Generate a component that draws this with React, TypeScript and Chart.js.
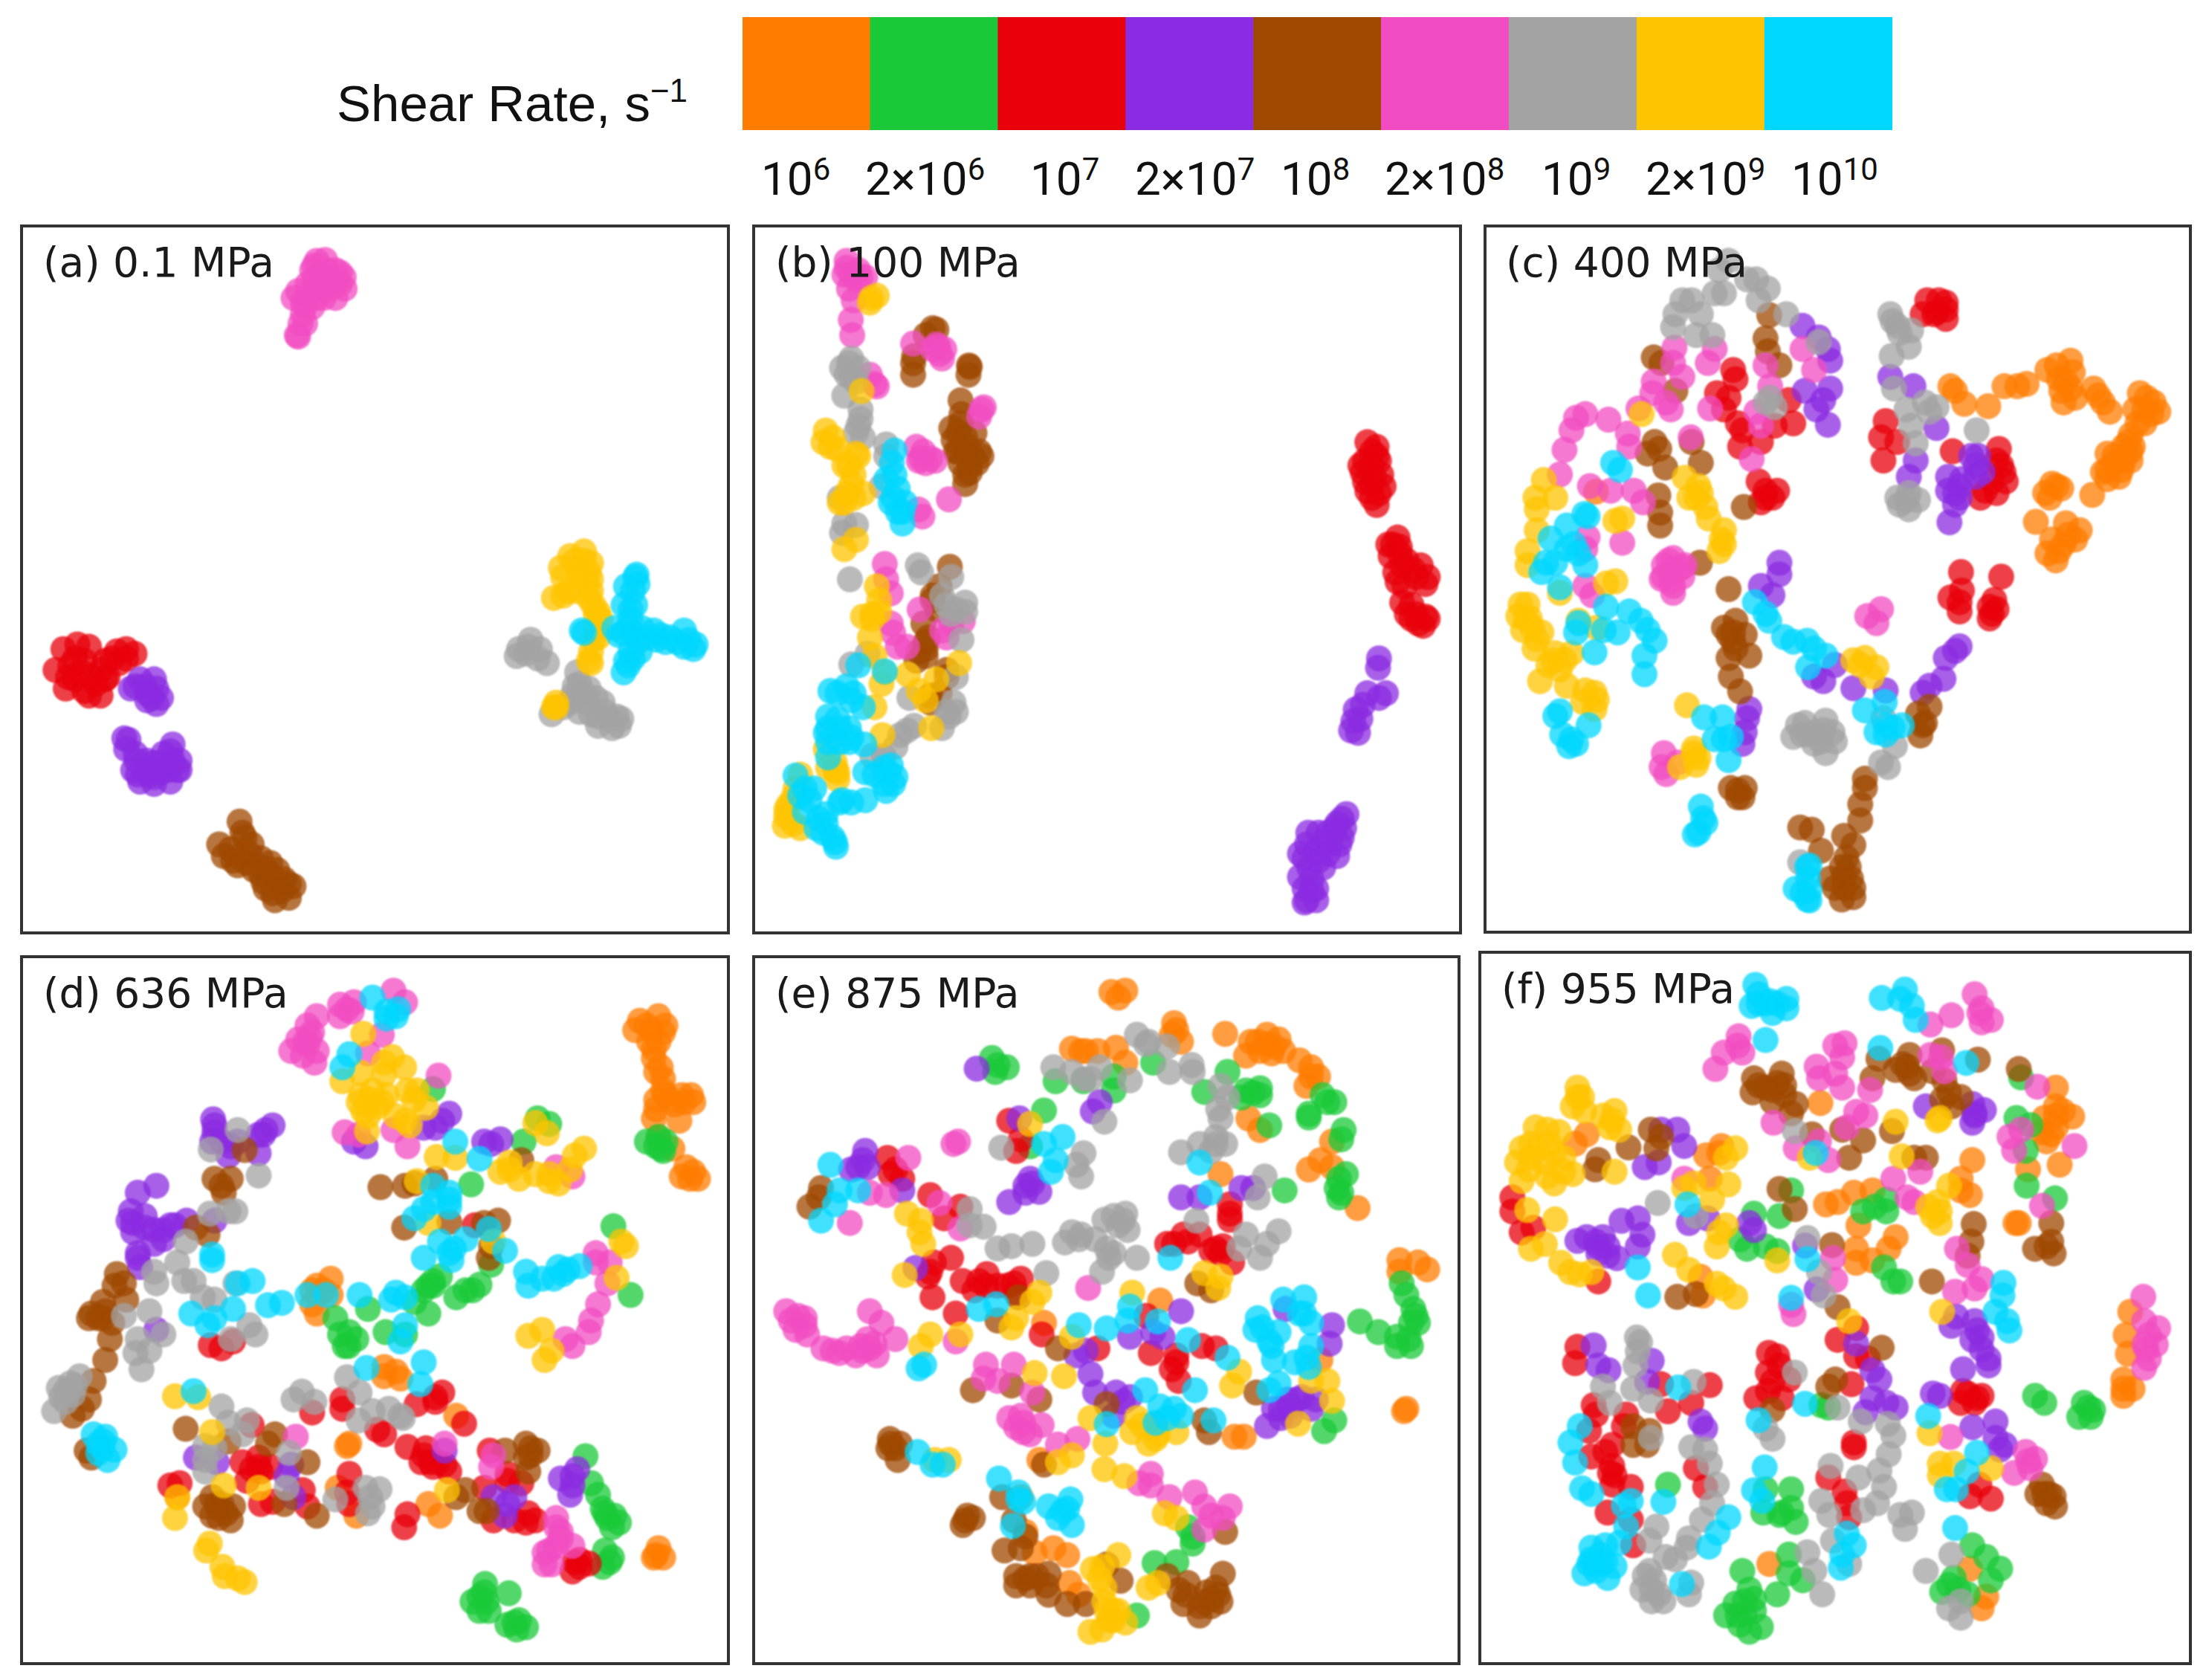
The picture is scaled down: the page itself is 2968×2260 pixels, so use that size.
import React, { useEffect, useRef } from "react";
import { Chart, registerables } from "chart.js";

Chart.register(...registerables);

type P = [number, number];

const shearRates = ["1e6", "2e6", "1e7", "2e7", "1e8", "2e8", "1e9", "2e9", "1e10"];
const shearColors = ["#ff7c00", "#1ac938", "#e8000b", "#8b2be2", "#9f4800", "#f14cc1", "#a3a3a3", "#ffc400", "#00d7ff"];
const tickBase = ["10", "2×10", "10", "2×10", "10", "2×10", "10", "2×10", "10"];
const tickExp = ["6", "6", "7", "7", "8", "8", "9", "9", "10"];
const barShare = [1, 1, 1, 1, 1, 1, 1, 1, 1];

// (a) 0.1 MPa
const aRed: P[] = [[135,915],[105,925],[88,970],[110,1010],[160,1025],[185,1025],[195,990],[150,950],[120,960],[165,985],[130,990],[210,945],[240,925],[258,935],[225,955],[200,985],[240,945],[115,985],[145,975],[175,1000],[195,950],[220,930],[160,920],[130,945],[150,1015],[185,970]];
const aPurple: P[] = [[250,1010],[270,990],[300,990],[305,1010],[285,1020],[305,1043],[285,1035],[236,1117],[240,1140],[262,1165],[270,1210],[300,1215],[335,1210],[350,1185],[355,1165],[340,1130],[335,1145],[300,1170],[315,1190],[280,1190],[260,1005],[295,1030],[315,1030],[280,1005],[245,1120],[260,1150],[285,1165],[310,1170],[330,1185],[290,1195],[340,1165],[320,1150],[255,1185],[300,1200],[355,1185],[265,1195]];
const aBrown: P[] = [[484,1296],[490,1320],[510,1345],[440,1345],[450,1370],[480,1390],[530,1375],[550,1385],[530,1410],[560,1420],[540,1440],[600,1435],[575,1445],[560,1465],[590,1460],[465,1355],[480,1370],[505,1365],[500,1385],[515,1400],[545,1405],[565,1400],[580,1420],[535,1425],[555,1450],[590,1430],[495,1330],[470,1380],[535,1395]];
const aPink: P[] = [[610,253],[607,250],[625,225],[620,205],[600,170],[610,155],[630,165],[650,170],[640,190],[665,150],[690,170],[710,150],[708,125],[700,115],[680,130],[650,130],[640,110],[650,90],[668,88],[645,100],[660,120],[630,140],[690,130],[670,110],[660,140],[650,150],[625,185],[615,225],[620,180],[680,150],[700,140],[665,170],[645,130],[690,110]];
const aGray: P[] = [[1110,905],[1085,925],[1080,940],[1130,925],[1145,955],[1210,975],[1205,1005],[1235,1010],[1155,1065],[1195,1040],[1230,1040],[1265,1040],[1295,1070],[1255,1090],[1285,1095],[1215,1060],[1300,1090],[1105,920],[1100,935],[1125,945],[1215,1000],[1225,1020],[1250,1030],[1180,1050],[1240,1065],[1270,1060],[1280,1075],[1255,1070],[1200,1025],[1305,1075]];
const aYellow: P[] = [[1225,715],[1240,740],[1195,725],[1175,750],[1210,750],[1160,815],[1190,800],[1230,780],[1240,800],[1245,830],[1260,860],[1255,900],[1240,930],[1240,955],[1250,880],[1165,1040],[1160,1050],[1225,735],[1205,735],[1180,770],[1220,770],[1235,760],[1240,775],[1250,850],[1245,905],[1180,810],[1210,800],[1165,1050],[1235,815],[1235,950],[1255,845]];
const aCyan: P[] = [[1338,765],[1340,785],[1315,790],[1310,830],[1335,830],[1325,860],[1220,885],[1225,890],[1290,880],[1330,890],[1375,885],[1410,900],[1440,885],[1460,925],[1450,905],[1325,930],[1345,930],[1310,975],[1320,960],[1400,910],[1330,800],[1325,840],[1320,880],[1310,890],[1340,910],[1360,900],[1390,895],[1425,910],[1440,920],[1465,915],[1330,945],[1315,950],[1350,880],[1300,895],[1380,905],[1335,770]];

// (b) 100 MPa
const bRed: P[] = [[1335,480],[1355,490],[1330,520],[1360,520],[1325,545],[1365,550],[1335,585],[1370,575],[1355,615],[1345,600],[1400,685],[1390,700],[1385,725],[1420,735],[1450,745],[1465,770],[1460,785],[1395,760],[1415,790],[1410,825],[1440,850],[1460,855],[1455,875],[1430,860],[1345,500],[1345,530],[1350,555],[1345,570],[1360,590],[1320,530],[1330,565],[1405,705],[1405,720],[1410,745],[1435,755],[1440,770],[1400,780],[1430,830],[1445,870],[1380,700],[1420,850],[1465,860],[1355,510]];
const bPurple: P[] = [[1360,945],[1358,965],[1375,1020],[1335,1020],[1310,1055],[1305,1080],[1315,1105],[1290,1280],[1285,1310],[1265,1310],[1208,1320],[1205,1345],[1240,1340],[1275,1345],[1200,1375],[1230,1380],[1270,1370],[1190,1415],[1215,1420],[1200,1470],[1225,1440],[1225,1465],[1325,1045],[1320,1075],[1300,1100],[1360,1030],[1250,1320],[1280,1290],[1225,1360],[1250,1365],[1210,1395],[1240,1395],[1200,1440],[1215,1445],[1255,1345],[1190,1365],[1230,1320],[1280,1330],[1270,1300],[1205,1465]];
const bBrown: P[] = [[400,235],[408,238],[385,250],[360,295],[358,310],[358,335],[478,315],[480,318],[477,335],[460,390],[462,420],[440,450],[445,475],[470,470],[490,460],[505,510],[470,500],[460,525],[495,525],[470,570],[480,545],[437,748],[415,790],[400,810],[410,840],[380,870],[385,910],[385,940],[365,950],[430,985],[415,1020],[395,1040],[475,490],[455,500],[485,510],[480,530],[500,500],[470,550],[450,500],[400,820],[390,900],[385,925],[370,930],[395,1025],[430,970],[455,460],[460,440]];
const bPink: P[] = [[215,90],[240,110],[210,120],[255,125],[220,150],[230,175],[224,217],[227,250],[358,268],[412,275],[415,290],[408,270],[265,335],[275,355],[280,360],[505,410],[510,405],[500,425],[365,490],[380,500],[395,515],[385,525],[370,520],[435,603],[370,625],[378,640],[297,742],[300,775],[310,805],[372,840],[310,870],[315,890],[325,920],[345,920],[420,885],[440,870],[465,865],[430,900],[235,130],[215,105],[245,125],[225,120],[400,280],[425,280],[375,515],[405,520],[420,300]];
const bGray: P[] = [[220,310],[215,335],[210,380],[235,350],[245,410],[240,445],[250,470],[300,485],[300,510],[200,600],[290,575],[210,655],[235,658],[205,675],[368,745],[375,760],[222,775],[440,770],[430,830],[450,840],[470,825],[462,905],[225,958],[260,935],[450,985],[445,1040],[350,1030],[435,1070],[420,1095],[345,1100],[330,1110],[320,1135],[295,1155],[270,1155],[430,1060],[225,300],[205,320],[240,320],[225,340],[245,430],[235,460],[440,850],[470,845],[420,810],[360,1090],[450,1060]];
const bYellow: P[] = [[268,170],[280,165],[265,180],[247,370],[170,455],[165,480],[195,495],[235,505],[210,530],[230,550],[215,590],[250,590],[210,610],[235,690],[210,710],[280,790],[285,820],[250,855],[270,860],[265,900],[275,940],[290,1000],[297,975],[347,980],[408,990],[370,1015],[385,1035],[457,955],[275,1050],[292,1110],[397,1095],[170,1140],[190,1185],[195,1205],[115,1195],[105,1225],[90,1260],[85,1285],[82,1305],[115,1310],[185,470],[180,490],[220,530],[225,570],[230,600],[200,610],[240,510],[190,1170],[195,1190],[175,1180],[100,1245],[85,1270],[100,1300],[270,850],[285,845]];
const bCyan: P[] = [[318,498],[312,525],[318,550],[325,580],[310,610],[340,610],[335,655],[335,630],[240,960],[297,973],[180,1015],[215,1005],[225,1035],[250,1050],[175,1070],[175,1095],[200,1095],[220,1095],[175,1125],[220,1125],[253,1130],[175,1158],[255,1190],[295,1180],[320,1200],[300,1230],[315,1215],[105,1197],[115,1240],[145,1225],[205,1250],[255,1250],[225,1255],[170,1280],[125,1275],[150,1310],[185,1330],[192,1350],[165,1320],[300,560],[315,600],[325,630],[195,1020],[230,1020],[195,1075],[170,1105],[200,1125],[225,1115],[275,1195],[305,1190],[295,1215],[125,1225],[135,1250],[155,1290],[170,1300],[190,1340],[200,1255],[310,1175]];

// (c) 400 MPa
const cOrange: P[] = [[1020,360],[1050,398],[1102,403],[1137,360],[1165,360],[1185,355],[1230,325],[1250,315],[1280,305],[1285,330],[1260,370],[1290,385],[1265,395],[1330,365],[1350,395],[1365,415],[1430,375],[1460,395],[1420,410],[1470,415],[1440,440],[1410,465],[1395,490],[1360,505],[1410,520],[1350,545],[1390,540],[1360,560],[1240,570],[1260,580],[1235,600],[1327,594],[1205,652],[1270,655],[1300,670],[1290,690],[1240,690],[1265,700],[1230,720],[1248,735],[253,587],[1445,385],[1440,410],[1455,420],[1425,440],[1405,480],[1415,490],[1375,525],[1375,510],[1385,555],[1395,520],[1255,345],[1270,350],[1280,365],[1250,575],[1225,590],[1275,680],[1255,715],[1030,370],[1340,380],[1360,540],[1410,500]];
const cRed: P[] = [[970,175],[995,175],[1010,195],[1010,215],[960,205],[985,205],[550,325],[555,345],[515,375],[540,385],[530,410],[670,390],[560,440],[570,455],[565,490],[610,480],[640,445],[680,440],[605,565],[620,585],[645,585],[610,610],[880,435],[870,470],[905,480],[875,520],[1025,500],[1125,495],[1130,530],[1135,545],[1095,585],[1085,600],[1043,760],[1130,770],[1020,815],[1040,825],[1040,845],[1115,820],[1110,850],[1120,840],[1105,860],[620,600],[635,600],[1045,800],[1105,835],[990,200],[1120,520],[1110,565],[1140,565],[1120,590],[1010,180]];
const cPurple: P[] = [[700,230],[755,280],[760,305],[735,255],[705,370],[760,365],[745,390],[730,410],[755,443],[890,340],[940,360],[990,450],[945,520],[930,555],[1065,510],[1075,530],[1090,545],[1015,555],[1015,585],[1040,575],[1030,615],[1018,653],[650,740],[650,765],[610,790],[635,810],[770,960],[745,995],[725,985],[810,1010],[880,1015],[1040,920],[1030,930],[1010,945],[1005,990],[975,1005],[960,1020],[585,1055],[580,1075],[575,1105],[570,1130],[1045,560],[1040,600],[1030,590],[1080,510],[1075,555]];
const cBrown: P[] = [[628,207],[620,257],[625,285],[650,315],[378,298],[395,310],[425,370],[380,480],[365,505],[390,495],[403,535],[460,480],[480,525],[388,595],[392,632],[392,660],[573,620],[478,740],[540,797],[555,865],[530,880],[575,895],[550,910],[585,940],[540,945],[545,985],[565,1017],[975,1050],[950,1065],[965,1085],[955,1112],[545,1225],[575,1225],[570,1245],[560,1230],[835,1205],[835,1225],[825,1260],[825,1295],[695,1310],[720,1315],[790,1328],[810,1348],[740,1360],[795,1375],[800,1395],[760,1420],[790,1415],[810,1440],[785,1465],[810,1460],[550,890],[555,925],[540,895],[785,1395],[790,1440],[770,1440],[805,1420],[560,1245],[960,1090]];
const cPink: P[] = [[423,277],[510,280],[495,310],[440,340],[420,310],[378,350],[375,375],[405,395],[415,410],[345,408],[500,408],[210,428],[230,420],[200,455],[185,497],[280,432],[322,462],[325,490],[458,470],[620,315],[630,360],[700,280],[725,325],[610,445],[590,517],[600,415],[175,550],[240,575],[285,585],[335,585],[355,610],[235,685],[230,710],[310,697],[230,790],[245,810],[420,730],[445,745],[400,770],[420,805],[400,745],[440,770],[415,755],[840,855],[870,840],[860,870],[400,1150],[395,1180],[405,1195],[430,1170],[410,735],[430,755],[415,780],[395,775],[440,750],[420,790]];
const cGray: P[] = [[540,90],[520,110],[510,160],[530,160],[580,130],[600,130],[625,150],[605,175],[665,205],[440,175],[460,175],[425,205],[420,233],[480,205],[470,250],[505,250],[890,205],[895,220],[910,245],[935,240],[930,275],[893,295],[735,265],[898,365],[925,410],[965,395],[990,405],[975,415],[935,445],[945,483],[1077,455],[905,600],[930,590],[950,605],[930,625],[630,385],[640,405],[620,395],[690,1090],[705,1085],[680,1115],[750,1080],[765,1105],[740,1125],[770,1125],[750,1150],[715,1110],[870,1170],[885,1180],[900,1135],[875,1075],[695,1385],[725,1105],[700,1110],[725,1130],[745,1100],[910,615],[925,605],[905,230]];
const cYellow: P[] = [[352,420],[140,562],[122,600],[165,600],[125,625],[125,670],[105,715],[105,745],[295,650],[310,645],[445,557],[475,575],[455,600],[490,620],[497,645],[530,670],[525,690],[520,715],[295,780],[275,785],[175,805],[90,830],[85,855],[110,860],[95,885],[135,890],[120,925],[165,935],[200,935],[150,960],[175,970],[132,995],[190,1005],[230,1015],[255,1035],[250,1055],[215,865],[255,880],[450,1047],[465,1140],[475,1160],[435,1180],[470,1175],[810,950],[835,945],[860,965],[850,985],[105,830],[100,860],[115,880],[125,905],[160,950],[185,950],[480,590],[470,600],[530,700],[250,1020],[225,1040],[465,1150],[825,960]];
const cCyan: P[] = [[290,525],[305,540],[228,635],[235,640],[190,660],[155,688],[190,710],[215,720],[145,740],[135,760],[230,745],[175,793],[275,835],[325,845],[350,865],[380,908],[358,940],[358,980],[215,870],[210,890],[270,885],[300,890],[365,885],[250,933],[597,825],[620,850],[628,865],[660,900],[680,910],[710,908],[725,925],[750,940],[712,965],[835,1058],[878,1040],[915,1090],[860,1105],[880,1110],[175,1060],[165,1070],[180,1110],[195,1135],[210,1130],[237,1090],[487,1073],[527,1073],[510,1120],[545,1115],[540,1165],[480,1265],[485,1290],[475,1320],[467,1325],[715,1392],[712,1420],[685,1442],[710,1465],[715,1467],[530,1120],[490,1300],[700,1450],[715,1445],[710,1395],[880,1090],[895,1095],[200,1120],[165,740],[205,700]];

// (d) 636 MPa
const dOrange: P[] = [[1345,150],[1385,140],[1335,170],[1395,175],[1365,195],[1375,230],[1390,250],[1395,275],[1380,320],[1435,310],[1460,325],[1420,330],[1375,360],[1430,365],[1415,425],[1453,490],[1435,485],[1385,400],[680,705],[650,720],[640,760],[650,780],[680,740],[795,895],[820,905],[795,915],[830,920],[715,1065],[720,1060],[950,1000],[890,1190],[915,1215],[1385,1285],[1375,1305],[695,1155],[735,1215],[350,1175],[1370,170],[1360,160],[1385,195],[1400,160],[1375,210],[1380,260],[1395,300],[1410,320],[1440,325],[1400,310],[1455,310],[1380,340],[1445,465],[1460,475],[1470,490],[1380,1300],[1395,1305],[665,730],[640,730]];
const dGreen: P[] = [[1385,400],[1360,410],[1390,425],[1395,430],[900,297],[1125,360],[1150,372],[1095,410],[982,502],[1288,592],[1325,740],[900,710],[880,730],[915,700],[890,780],[970,730],[950,745],[1000,718],[985,730],[860,755],[760,770],[690,790],[700,825],[735,835],[718,850],[798,820],[840,825],[1025,675],[1228,1087],[1240,1145],[1255,1170],[1270,1210],[1300,1230],[1290,1215],[1270,1290],[1280,1315],[1265,1325],[1012,1362],[1000,1390],[985,1400],[1020,1420],[1063,1382],[1060,1450],[1080,1460],[1100,1455],[1380,420],[1015,1400],[1010,1380],[1000,1420],[1075,1445],[1085,1440],[1275,1220],[1285,1240],[1265,1200],[1285,1305],[1400,410],[900,720],[890,720],[710,850],[720,820]];
const dRed: P[] = [[422,848],[445,855],[470,840],[705,965],[705,985],[640,993],[865,975],[905,960],[920,950],[905,970],[967,1017],[780,1030],[795,1040],[845,1067],[885,1070],[875,1100],[910,1100],[935,1120],[1022,1075],[1060,1125],[1090,1145],[1010,1155],[355,1145],[335,1150],[490,1100],[525,1090],[510,1115],[550,1110],[500,1140],[530,1190],[555,1185],[620,1160],[630,1195],[720,1125],[715,1165],[720,1190],[845,1212],[838,1240],[1030,1225],[1105,1210],[1120,1225],[1100,1230],[1075,1225],[1205,1315],[1200,1335],[1235,1318],[1215,1325],[510,1020],[990,590],[525,1110],[530,1120],[880,1085],[895,1100],[925,1105],[900,1110],[1060,1140],[1215,1310]];
const dPurple: P[] = [[427,362],[430,390],[425,410],[460,440],[480,410],[525,435],[535,395],[555,375],[525,395],[305,505],[265,520],[250,560],[280,570],[245,580],[255,605],[335,590],[320,620],[345,590],[370,580],[430,580],[265,650],[270,680],[300,630],[305,815],[390,1090],[435,1100],[595,1105],[585,1130],[600,1175],[925,1075],[730,410],[755,420],[905,380],[880,380],[935,350],[920,365],[1010,410],[1045,405],[1025,415],[1175,1135],[1200,1130],[1210,1115],[1200,1150],[1195,1170],[1060,1190],[1030,1175],[1055,1215],[1075,1175],[255,585],[280,595],[300,600],[320,600],[265,660],[430,375],[445,410],[465,420],[540,385]];
const dBrown: P[] = [[495,428],[430,490],[465,490],[450,520],[390,595],[415,610],[220,695],[235,715],[240,750],[190,755],[165,780],[180,790],[210,800],[205,835],[195,880],[170,925],[160,965],[145,985],[125,1000],[155,1075],[165,1090],[787,508],[840,505],[860,500],[905,490],[838,595],[935,583],[1040,580],[1010,585],[1020,660],[1025,635],[1090,450],[368,1028],[560,1040],[545,1060],[630,1100],[580,1190],[460,1055],[1110,1070],[1125,1075],[1100,1090],[1055,1075],[1105,1120],[650,1215],[425,1175],[410,1195],[470,1195],[440,1220],[465,1225],[445,1190],[970,1160],[950,1175],[1000,1205],[1015,1205],[195,775],[160,790],[190,790],[215,720],[435,1190],[440,1200],[455,1210],[425,1215],[445,505],[1110,1085],[1100,1060]];
const dPink: P[] = [[650,140],[630,160],[610,190],[595,215],[630,200],[645,240],[650,215],[700,115],[730,110],[700,140],[815,85],[840,110],[790,180],[760,220],[912,268],[710,390],[740,395],[815,385],[845,420],[1030,1085],[1025,1110],[1165,1220],[1175,1250],[1140,1295],[1165,1280],[1200,1280],[1140,1320],[1250,650],[1280,670],[1275,715],[1255,760],[1240,795],[1235,820],[1185,835],[1200,850],[1200,485],[1165,465],[605,1045],[925,1060],[635,185],[625,195],[640,175],[725,130],[715,125],[1150,1290],[1175,1265],[1165,1240],[1250,670],[1155,1320],[620,225]];
const dGray: P[] = [[480,385],[422,427],[525,483],[420,565],[475,560],[460,560],[368,625],[350,670],[300,690],[305,715],[365,710],[385,710],[290,775],[235,785],[405,745],[430,750],[475,715],[505,805],[518,825],[465,835],[320,825],[265,835],[290,860],[260,865],[273,900],[140,915],[120,930],[95,940],[125,955],[85,990],[110,970],[715,917],[742,950],[618,948],[600,965],[645,970],[445,980],[460,1015],[500,1010],[490,1040],[740,1010],[770,990],[805,985],[830,1000],[835,1005],[430,1070],[410,1065],[410,1120],[590,1080],[585,1155],[785,1158],[755,1155],[690,1180],[770,1195],[760,1210],[115,950],[100,960],[130,935],[110,945],[765,1175],[410,1095]];
const dYellow: P[] = [[750,178],[812,228],[838,250],[795,240],[795,265],[745,262],[705,280],[800,310],[865,300],[860,320],[885,337],[740,325],[765,320],[780,335],[750,345],[840,365],[758,388],[908,443],[948,445],[1045,475],[1085,490],[1065,455],[1120,480],[1150,480],[1170,500],[1195,470],[1205,440],[1225,425],[1120,370],[1145,392],[865,495],[890,585],[1030,625],[1305,625],[1315,635],[1295,703],[1105,828],[1135,815],[1155,860],[1140,880],[345,958],[395,960],[425,1035],[525,1155],[450,1150],[345,1220],[350,1175],[930,1160],[420,1275],[412,1290],[447,1325],[452,1345],[480,1350],[495,1358],[760,330],[745,310],[770,300],[790,325],[760,355],[850,375],[820,355],[845,300],[1150,495],[1065,470]];
const dCyan: P[] = [[770,100],[825,125],[800,145],[820,140],[720,222],[705,250],[948,410],[1000,447],[900,505],[935,520],[935,550],[880,555],[860,575],[915,625],[945,640],[970,620],[1020,598],[1055,645],[880,660],[940,665],[425,653],[425,665],[480,715],[512,710],[470,770],[380,780],[415,805],[430,790],[545,762],[575,757],[630,740],[670,740],[742,740],[820,735],[840,745],[810,750],[840,805],[830,840],[757,897],[880,885],[873,932],[1100,690],[1105,720],[1135,705],[1170,680],[1160,705],[1190,685],[1215,678],[385,947],[170,1040],[195,1045],[215,1073],[200,1095],[180,1060],[190,1070],[190,1055],[180,1080],[800,130],[935,535],[1180,695],[935,650],[900,540]];

// (e) 875 MPa
const eOrange: P[] = [[785,88],[815,85],[800,100],[920,155],[915,180],[935,195],[1030,178],[1085,195],[1120,180],[1145,190],[1075,225],[1105,215],[1130,220],[1155,215],[1190,235],[1215,250],[1205,290],[1230,270],[700,210],[730,215],[755,215],[795,208],[815,240],[1080,360],[1105,385],[1260,410],[1235,450],[1210,470],[1260,465],[1315,553],[1405,665],[1445,670],[1465,685],[1405,690],[1020,480],[640,800],[890,752],[1235,880],[1420,985],[1415,990],[1050,1045],[1070,1045],[630,1095],[590,1175],[600,1250],[620,1295],[660,1285],[690,1300],[695,1360],[715,1385],[880,1020],[1120,200],[1100,195],[1135,205],[720,215],[1215,270],[925,170]];
const eGreen: P[] = [[528,230],[560,250],[535,260],[665,280],[725,280],[790,270],[790,300],[875,240],[640,343],[1035,260],[1075,300],[1105,295],[1065,315],[985,303],[1125,375],[1210,358],[1240,310],[1265,325],[1285,385],[1280,405],[1290,480],[1270,510],[1275,530],[1320,797],[1360,820],[1400,830],[1430,850],[1445,800],[1435,770],[1410,715],[1265,1010],[1243,1033],[950,1240],[960,1275],[878,1317],[925,1315],[840,1430],[1158,515],[610,420],[1275,490],[1280,520],[1090,305],[1105,310],[1400,850],[1425,835],[1430,800],[1440,785],[1420,740],[960,1260],[540,245],[1210,350],[1250,325]];
const eRed: P[] = [[565,365],[590,405],[580,430],[303,445],[310,480],[335,490],[395,525],[425,575],[460,550],[403,670],[440,660],[390,700],[400,745],[450,780],[465,710],[490,730],[517,695],[515,720],[560,720],[590,705],[580,735],[860,785],[755,855],[635,825],[870,865],[925,885],[915,900],[930,925],[980,850],[1010,855],[905,630],[940,610],[975,610],[1000,645],[1025,635],[1045,670],[1040,545],[1040,578],[500,710],[540,720],[575,715],[950,625],[1010,640],[395,690],[920,630],[1020,650],[925,870],[1040,565],[320,470]];
const ePurple: P[] = [[495,253],[760,325],[745,345],[587,360],[255,430],[240,465],[260,465],[335,515],[363,682],[610,490],[600,520],[565,540],[630,518],[935,530],[975,530],[1065,510],[1090,510],[730,860],[710,870],[740,910],[750,950],[795,950],[825,960],[790,1000],[825,830],[895,830],[875,820],[935,775],[1260,805],[1255,845],[1160,770],[1170,980],[1135,985],[1120,1022],[1195,960],[1225,965],[1150,1005],[250,450],[225,470],[600,505],[615,500],[1165,965],[1185,965],[1170,1000],[1215,985],[1150,985],[810,970]];
const eBrown: P[] = [[160,510],[155,530],[135,550],[670,855],[540,795],[585,745],[487,945],[570,935],[630,965],[775,975],[970,715],[1000,730],[985,1010],[995,1035],[1097,950],[308,1050],[330,1060],[305,1070],[325,1095],[640,1105],[475,1215],[465,1235],[487,1220],[550,1175],[575,1225],[555,1290],[590,1285],[600,1260],[580,1345],[610,1365],[650,1340],[650,1385],[690,1405],[730,1405],[625,1345],[775,1320],[805,1355],[1030,1250],[905,1345],[930,1375],[950,1360],[990,1380],[1025,1340],[1015,1385],[975,1430],[1000,1410],[940,1405],[310,1060],[320,1070],[470,1225],[610,1345],[580,1365],[1000,1395],[985,1400],[1010,1370],[1020,1400],[945,1385],[975,1410],[600,1350],[645,1365]];
const ePink: P[] = [[455,410],[445,415],[348,445],[265,520],[300,525],[415,542],[460,597],[222,585],[450,840],[85,775],[110,785],[125,805],[105,815],[165,855],[200,865],[235,870],[265,775],[290,800],[320,835],[280,870],[260,835],[265,855],[735,725],[515,890],[510,920],[540,925],[575,890],[615,950],[565,1005],[595,1015],[635,1020],[595,1035],[670,1062],[712,1050],[870,1125],[845,1145],[870,1150],[910,1175],[965,1165],[985,1195],[1040,1195],[985,1245],[1025,1220],[125,790],[95,795],[130,825],[185,860],[215,855],[250,860],[275,845],[245,850],[590,1000],[610,1040],[580,1025],[1000,1215]];
const eGray: P[] = [[840,180],[865,195],[905,205],[910,260],[958,245],[960,260],[660,250],[700,260],[725,275],[760,250],[740,275],[825,278],[770,367],[1020,290],[1035,315],[1020,360],[935,433],[975,415],[1010,400],[1030,415],[1000,430],[725,435],[710,460],[720,485],[548,423],[1115,485],[1100,530],[790,570],[815,565],[770,578],[820,600],[700,605],[720,610],[685,627],[750,620],[790,650],[840,660],[780,660],[765,690],[615,630],[570,635],[540,640],[645,693],[480,555],[510,593],[480,590],[968,580],[1145,603],[1120,630],[1075,610],[1105,660],[1060,640],[800,590],[810,580],[715,620],[775,640],[860,200],[1010,415],[1015,340]];
const eYellow: P[] = [[610,372],[345,565],[375,580],[372,605],[380,630],[340,697],[630,735],[615,755],[580,790],[570,810],[395,825],[375,850],[460,825],[620,908],[683,915],[700,830],[830,735],[985,693],[1020,700],[1015,725],[1045,935],[1060,905],[1215,925],[1250,925],[1260,968],[1187,1017],[740,1005],[772,1060],[830,1035],[865,1060],[885,1040],[925,1035],[840,1005],[405,1095],[435,1095],[700,1085],[670,1100],[770,1115],[813,1130],[900,1210],[925,1220],[765,1325],[800,1300],[745,1330],[770,1370],[865,1370],[885,1360],[775,1420],[790,1440],[815,1445],[740,1465],[765,1460],[780,1440],[790,1420],[800,1420],[770,1400],[760,1350],[850,1020],[880,1050]];
const eCyan: P[] = [[640,415],[680,400],[665,450],[655,475],[180,460],[200,515],[240,515],[190,545],[160,580],[975,455],[997,520],[912,660],[500,770],[537,760],[382,890],[370,898],[715,805],[775,812],[825,765],[820,795],[885,797],[950,837],[1035,875],[965,945],[858,945],[775,1018],[880,1015],[890,980],[920,985],[935,1000],[1005,1010],[1155,750],[1200,745],[1190,780],[1215,800],[1100,790],[1095,815],[1145,820],[1130,850],[1215,850],[1135,880],[1180,885],[1210,895],[1145,930],[1125,945],[368,1078],[400,1105],[422,1105],[543,1135],[585,1165],[595,1185],[650,1195],[697,1180],[670,1220],[700,1235],[573,1237],[690,1200],[680,1205],[585,1180],[1200,780],[1205,875],[905,1005],[1110,810],[1125,840]];

// (f) 955 MPa
const fOrange: P[] = [[215,420],[240,400],[497,445],[530,425],[525,440],[743,333],[1250,300],[1250,340],[1225,365],[1285,362],[1250,385],[1230,415],[1190,475],[1258,465],[1070,455],[1045,495],[1065,530],[1045,520],[755,550],[780,545],[815,525],[855,520],[825,595],[820,645],[820,675],[855,670],[905,620],[890,645],[1163,590],[505,495],[485,705],[490,745],[633,1320],[1410,780],[1400,830],[1405,870],[1395,925],[1415,945],[1395,960],[1090,1415],[1100,1390],[1065,1330],[1170,590],[1240,400],[1250,360],[1265,350],[1220,395],[1395,945]];
const fGreen: P[] = [[1175,278],[1165,365],[1195,380],[1185,435],[1187,510],[1248,537],[680,520],[655,575],[885,540],[860,555],[835,565],[885,565],[600,570],[570,625],[585,645],[625,640],[650,650],[880,685],[900,715],[915,715],[1205,960],[1225,975],[1310,975],[1300,1005],[1330,990],[1325,1005],[745,980],[760,985],[415,1150],[625,1160],[680,1160],[620,1210],[655,1215],[680,1200],[690,1230],[675,1300],[675,1340],[705,1355],[650,1385],[575,1335],[590,1375],[560,1405],[600,1420],[540,1430],[570,1450],[615,1455],[590,1465],[1070,1280],[1100,1305],[1130,1330],[1110,1355],[1005,1380],[1030,1350],[1060,1385],[580,1400],[580,1425],[600,1395],[1040,1375],[1020,1365],[660,1210],[1320,985],[565,1430]];
const fRed: P[] = [[220,855],[215,890],[80,535],[80,565],[100,610],[125,600],[265,715],[780,840],[820,815],[820,875],[845,880],[632,868],[655,895],[630,910],[675,925],[630,950],[605,965],[660,965],[810,935],[1050,950],[1090,960],[1045,975],[1080,965],[255,980],[260,1000],[400,935],[415,993],[465,975],[505,937],[325,1000],[320,1025],[245,1035],[295,1065],[250,1090],[280,1080],[295,1110],[300,1130],[295,1150],[335,1155],[285,1210],[335,1225],[340,1280],[475,1115],[495,1155],[815,1060],[815,1070],[760,1135],[795,1165],[800,1190],[805,1220],[1065,1175],[1110,1180],[1085,1150],[290,1125],[1060,955],[1075,975],[640,930],[650,875]];
const fPurple: P[] = [[400,390],[435,390],[450,425],[365,470],[395,460],[315,585],[350,580],[360,615],[350,640],[220,628],[240,620],[275,620],[285,640],[265,655],[305,665],[590,590],[600,605],[710,638],[735,732],[255,852],[265,895],[287,905],[380,885],[370,930],[485,1015],[495,1030],[820,848],[855,905],[870,925],[855,965],[885,975],[905,985],[840,995],[1050,903],[985,955],[1000,960],[1035,790],[1025,810],[1075,800],[1070,840],[1090,835],[1105,880],[1105,895],[1070,1027],[1120,1015],[1120,1050],[1140,1065],[1130,1075],[970,340],[1070,335],[1075,360],[1095,348],[1070,375],[460,590],[500,580],[265,640],[285,660],[1075,355],[1080,820],[1090,860],[260,630]];
const fBrown: P[] = [[600,280],[597,310],[625,300],[660,270],[665,295],[640,330],[690,335],[680,355],[868,238],[855,280],[905,262],[935,230],[930,255],[945,280],[985,265],[1005,220],[1010,285],[1005,325],[1045,320],[1025,340],[1082,240],[790,390],[835,413],[805,450],[725,400],[897,393],[945,450],[970,450],[378,390],[400,405],[390,430],[330,428],[265,455],[258,475],[655,517],[688,560],[1170,260],[1073,592],[1068,630],[1060,660],[1240,590],[1205,645],[1240,630],[1245,655],[768,637],[983,715],[435,748],[475,742],[780,770],[875,857],[775,925],[760,940],[640,990],[340,1025],[375,1035],[340,1065],[370,1065],[1220,1150],[1210,1170],[1245,1175],[1248,1197],[1230,1190],[610,295],[640,305],[650,290],[665,315],[935,270],[920,250],[1020,310],[1230,640],[1225,1170],[1235,1170]];
const fPink: P[] = [[567,190],[565,210],[575,225],[535,225],[517,260],[795,205],[775,210],[790,235],[735,255],[775,270],[740,280],[790,300],[850,305],[820,352],[840,360],[800,385],[1075,100],[1090,130],[1110,155],[1090,160],[1025,145],[980,165],[1003,235],[980,230],[1010,265],[642,375],[690,430],[740,415],[760,455],[1210,298],[1150,405],[1175,390],[1160,435],[1290,425],[1220,553],[900,495],[930,535],[945,545],[958,480],[450,495],[770,665],[775,712],[680,765],[685,785],[1037,645],[1060,680],[1090,710],[1075,730],[1033,737],[1023,1048],[1185,1080],[1205,1095],[1160,1125],[1195,1115],[1438,748],[1440,800],[1470,815],[1465,850],[1445,860],[1440,900],[1450,830],[1440,850],[1450,880],[1190,1100],[1085,140]];
const fGray: P[] = [[393,547],[475,575],[688,393],[715,622],[740,695],[750,745],[348,835],[350,865],[345,895],[355,845],[275,940],[290,975],[340,945],[378,970],[470,930],[378,1050],[465,1070],[495,1075],[505,1105],[520,1150],[510,1190],[488,1225],[460,1265],[455,1285],[390,1240],[375,1270],[410,1305],[430,1310],[365,1345],[385,1355],[360,1375],[380,1400],[405,1400],[465,1360],[460,1385],[688,910],[640,1052],[625,1030],[780,985],[830,1015],[888,1020],[900,1045],[890,1085],[870,1120],[880,1155],[865,1190],[835,1205],[825,1135],[765,1110],[745,1185],[762,1215],[770,1270],[805,1320],[715,1295],[730,1335],[747,1385],[915,1215],[940,1210],[925,1245],[970,1335],[1025,1300],[1020,1415],[1045,1435],[1045,1400],[380,1375],[375,1335],[395,1385]];
const fYellow: P[] = [[220,300],[210,340],[235,350],[300,350],[275,360],[290,385],[310,390],[130,385],[155,390],[180,395],[100,430],[90,460],[120,450],[100,500],[170,440],[170,505],[190,480],[210,485],[150,460],[300,480],[112,562],[172,582],[150,635],[120,645],[185,675],[205,695],[225,700],[250,695],[430,658],[460,690],[520,720],[535,730],[560,748],[450,515],[470,505],[510,540],[545,507],[560,430],[540,450],[540,595],[525,610],[520,640],[650,670],[905,373],[995,370],[1000,365],[918,447],[720,450],[1020,510],[975,555],[1000,565],[1000,590],[995,545],[1005,780],[805,800],[978,1040],[1000,1105],[1030,1105],[1000,1130],[1110,1115],[120,420],[135,430],[160,420],[115,475],[155,490],[230,320],[220,320],[190,450],[295,370],[985,575]];
const fCyan: P[] = [[603,80],[610,100],[595,125],[625,120],[640,140],[650,120],[670,110],[670,130],[625,198],[875,108],[925,90],[915,110],[940,125],[948,155],[872,215],[1057,247],[733,440],[457,550],[350,685],[372,745],[715,667],[680,750],[1137,718],[1135,745],[1120,780],[1145,800],[1150,820],[975,1003],[1080,1082],[1058,1122],[1015,1160],[1035,1160],[437,942],[225,1025],[205,1060],[215,1103],[230,1158],[250,1170],[335,1185],[320,1195],[405,1187],[325,1240],[310,1275],[250,1285],[280,1280],[235,1340],[250,1310],[280,1315],[300,1325],[285,1350],[260,1335],[445,1363],[610,1012],[623,1113],[600,1162],[618,1185],[710,977],[545,1220],[522,1253],[503,1283],[800,1255],[815,1280],[790,1300],[787,1328],[1033,1243],[255,1320],[270,1320],[245,1320],[270,1300],[635,115],[610,120]];

const empty: P[] = [];

const panels = [
  { label: "(a) 0.1 MPa", left: 29, top: 304, width: 952, height: 952, xr: [15, 1537], yr: [15, 1537], tx: 58, ty: 326,
    series: [empty, empty, aRed, aPurple, aBrown, aPink, aGray, aYellow, aCyan] },
  { label: "(b) 100 MPa", left: 1014, top: 304, width: 952, height: 952, xr: [15, 1537], yr: [15, 1537], tx: 1043, ty: 326,
    series: [empty, empty, bRed, bPurple, bBrown, bPink, bGray, bYellow, bCyan] },
  { label: "(c) 400 MPa", left: 1998, top: 304, width: 950, height: 951, xr: [13, 1541], yr: [15, 1537], tx: 2026, ty: 326,
    series: [cOrange, empty, cRed, cPurple, cBrown, cPink, cGray, cYellow, cCyan] },
  { label: "(d) 636 MPa", left: 29, top: 1287, width: 952, height: 952, xr: [15, 1537], yr: [12, 1535], tx: 58, ty: 1309,
    series: [dOrange, dGreen, dRed, dPurple, dBrown, dPink, dGray, dYellow, dCyan] },
  { label: "(e) 875 MPa", left: 1014, top: 1287, width: 950, height: 952, xr: [15, 1535], yr: [12, 1535], tx: 1043, ty: 1309,
    series: [eOrange, eGreen, eRed, ePurple, eBrown, ePink, eGray, eYellow, eCyan] },
  { label: "(f) 955 MPa", left: 1991, top: 1281, width: 957, height: 958, xr: [10, 1541], yr: [10, 1535], tx: 2020, ty: 1303,
    series: [fOrange, fGreen, fRed, fPurple, fBrown, fPink, fGray, fYellow, fCyan] },
];

const tickLeft = [1024, 1164, 1386, 1527, 1723, 1863, 2074, 2214, 2410];

function rgba(hex: string, a: number) {
  const n = parseInt(hex.slice(1), 16);
  return `rgba(${(n >> 16) & 255},${(n >> 8) & 255},${n & 255},${a})`;
}

function ScatterPanel({ panel }: { panel: (typeof panels)[number] }) {
  const ref = useRef<HTMLCanvasElement>(null);
  useEffect(() => {
    const chart = new Chart(ref.current!, {
      type: "scatter",
      data: {
        datasets: panel.series.map((pts, i) => ({
          label: shearRates[i],
          data: pts.map(([x, y]) => ({ x, y })),
          backgroundColor: rgba(shearColors[i], 0.75),
          borderWidth: 0,
          pointRadius: 17.5,
          order: 9 - i,
        })),
      },
      options: {
        animation: false,
        responsive: false,
        devicePixelRatio: 1,
        layout: { padding: 0, autoPadding: false },
        plugins: { legend: { display: false }, tooltip: { enabled: false } },
        scales: {
          x: { type: "linear", display: false, min: panel.xr[0], max: panel.xr[1] },
          y: { type: "linear", display: false, min: panel.yr[0], max: panel.yr[1], reverse: true },
        },
      },
    });
    return () => chart.destroy();
  }, [panel]);
  return (
    <>
      <canvas
        ref={ref}
        width={panel.width}
        height={panel.height}
        style={{ position: "absolute", left: panel.left, top: panel.top, width: panel.width, height: panel.height, filter: "blur(0.8px)" }}
      />
      <div
        style={{
          position: "absolute", left: panel.left - 2, top: panel.top - 2, width: panel.width + 3, height: panel.height + 3,
          boxSizing: "border-box", border: "4px solid #333",
        }}
      />
      <div
        style={{
          position: "absolute", left: panel.tx, top: panel.ty, fontFamily: "'DejaVu Sans'", fontSize: 55,
          lineHeight: "54px", color: "#1a1a1a", whiteSpace: "nowrap",
        }}
      >
        {panel.label}
      </div>
    </>
  );
}

function ColorBar() {
  const ref = useRef<HTMLCanvasElement>(null);
  useEffect(() => {
    const chart = new Chart(ref.current!, {
      type: "bar",
      data: {
        labels: shearRates,
        datasets: [{ data: barShare, backgroundColor: shearColors, barPercentage: 1, categoryPercentage: 1, borderWidth: 0 }],
      },
      options: {
        animation: false,
        responsive: false,
        devicePixelRatio: 1,
        layout: { padding: 0, autoPadding: false },
        plugins: { legend: { display: false }, tooltip: { enabled: false } },
        scales: { x: { display: false }, y: { display: false, min: 0, max: 1 } },
      },
    });
    return () => chart.destroy();
  }, []);
  return <canvas ref={ref} width={1547} height={152} style={{ position: "absolute", left: 999, top: 23, width: 1547, height: 152 }} />;
}

export default function App() {
  return (
    <div style={{ position: "absolute", left: 0, top: 0, width: 2968, height: 2260, background: "#fff", overflow: "hidden" }}>
      <div
        style={{
          position: "absolute", left: 453, top: 100, fontFamily: "'Liberation Sans'", fontSize: 69, lineHeight: "80px",
          color: "#111", whiteSpace: "nowrap",
        }}
      >
        Shear Rate, s
        <span style={{ fontSize: 44, position: "relative", top: -26 }}>−1</span>
      </div>
      <ColorBar />
      {tickBase.map((b, i) => (
        <div
          key={i}
          style={{
            position: "absolute", left: tickLeft[i], top: 206, fontFamily: "Roboto", fontSize: 62, lineHeight: "70px",
            color: "#111", whiteSpace: "nowrap",
          }}
        >
          {b}
          <span style={{ fontSize: 42, position: "relative", top: -20 }}>{tickExp[i]}</span>
        </div>
      ))}
      {panels.map((p) => (
        <ScatterPanel key={p.label} panel={p} />
      ))}
    </div>
  );
}
